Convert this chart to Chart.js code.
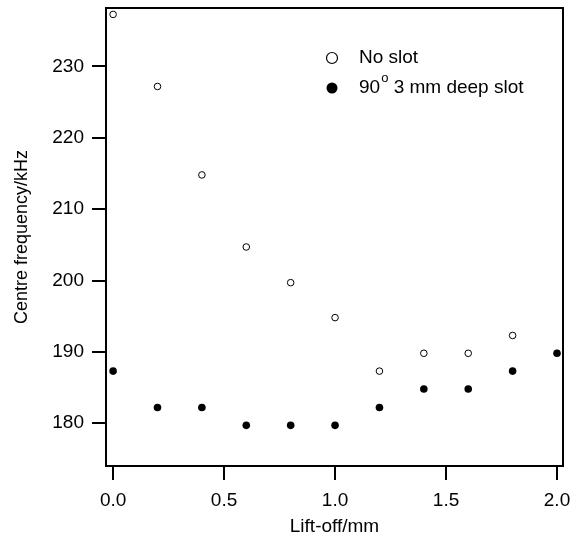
<!DOCTYPE html>
<html>
<head>
<meta charset="utf-8">
<script src="https://cdn.jsdelivr.net/npm/chart.js@4/dist/chart.umd.min.js"></script>
<style>
  html, body { margin: 0; padding: 0; background: #fff; }
  #wrap { width: 571px; height: 536px; }
</style>
</head>
<body>
<div id="wrap"><canvas id="chart" width="571" height="536"></canvas></div>
<script>
"use strict";

// data
const liftOff = [0.0, 0.2, 0.4, 0.6, 0.8, 1.0, 1.2, 1.4, 1.6, 1.8, 2.0];
const noSlot = [237.3, 227.2, 214.8, 204.7, 199.7, 194.8, 187.3, 189.8, 189.8, 192.3];
const deepSlot = [187.3, 182.2, 182.2, 179.7, 179.7, 179.7, 182.2, 184.8, 184.8, 187.3, 189.8];
const xTicks = [0.0, 0.5, 1.0, 1.5, 2.0];
const yTicks = [180, 190, 200, 210, 220, 230];
const seriesNames = ["No slot", "90° 3 mm deep slot"];

const FONT = "'Liberation Sans', Arial, sans-serif";

const toPoints = (ys) => ys.map((y, i) => ({ x: liftOff[i], y: y }));

// draws the frame round the plot and the legend (with superscript degree "o")
const framePlugin = {
  id: "frame",
  afterDraw(chart) {
    const { ctx, chartArea } = chart;
    ctx.save();
    ctx.strokeStyle = "#000";
    ctx.lineWidth = 2;
    ctx.strokeRect(chartArea.left, chartArea.top, chartArea.right - chartArea.left, chartArea.bottom - chartArea.top);

    const mx = 332, tx = 359;
    const rows = [58, 88];
    ctx.font = "19px " + FONT;
    ctx.textBaseline = "middle";
    ctx.fillStyle = "#000";
    rows.forEach((ry, i) => {
      ctx.beginPath();
      ctx.arc(mx, ry, 5.5, 0, Math.PI * 2);
      ctx.lineWidth = 1.2;
      if (i === 0) {
        ctx.fillStyle = "#fff";
        ctx.fill();
        ctx.stroke();
      } else {
        ctx.fillStyle = "#000";
        ctx.fill();
      }
      ctx.fillStyle = "#000";
      const name = seriesNames[i];
      const deg = name.indexOf("°");
      if (deg < 0) {
        ctx.font = "19px " + FONT;
        ctx.fillText(name, tx, ry);
      } else {
        const head = name.slice(0, deg);
        const tail = name.slice(deg + 1);
        ctx.font = "19px " + FONT;
        ctx.fillText(head, tx, ry);
        let x = tx + ctx.measureText(head).width + 1;
        ctx.font = "13px " + FONT;
        ctx.fillText("o", x, ry - 10);
        x += ctx.measureText("o").width;
        ctx.font = "19px " + FONT;
        ctx.fillText(tail, x, ry);
      }
    });
    ctx.restore();
  },
};

new Chart(document.getElementById("chart"), {
  type: "scatter",
  data: {
    datasets: [
      {
        label: seriesNames[0],
        data: toPoints(noSlot),
        pointStyle: "circle",
        pointRadius: 3.3,
        pointBorderWidth: 1,
        borderColor: "#000",
        backgroundColor: "#fff",
      },
      {
        label: seriesNames[1],
        data: toPoints(deepSlot),
        pointStyle: "circle",
        pointRadius: 3.8,
        pointBorderWidth: 0,
        borderColor: "#000",
        backgroundColor: "#000",
      },
    ],
  },
  options: {
    responsive: false,
    animation: false,
    layout: { padding: { left: 0, right: 8, top: 8, bottom: 0 } },
    plugins: {
      legend: { display: false },
      tooltip: { enabled: false },
    },
    scales: {
      x: {
        type: "linear",
        min: -0.032,
        max: 2.027,
        afterBuildTicks: (scale) => {
          scale.ticks = xTicks.map((v) => ({ value: v }));
        },
        afterFit: (scale) => {
          scale.height = 70;
          scale.paddingLeft = 0;
          scale.paddingRight = 0;
        },
        ticks: {
          color: "#000",
          font: { family: FONT, size: 19 },
          padding: 9,
          maxRotation: 0,
          callback: (v) => Number(v).toFixed(1),
        },
        grid: {
          drawOnChartArea: false,
          drawTicks: true,
          tickLength: 14,
          color: "#000",
          lineWidth: 2,
        },
        border: { display: true, color: "#000", width: 2 },
        title: {
          display: true,
          text: "Lift-off/mm",
          color: "#000",
          font: { family: FONT, size: 19, lineHeight: 1 },
          padding: { top: 0, bottom: 0 },
        },
      },
      y: {
        type: "linear",
        min: 174.0,
        max: 238.2,
        afterBuildTicks: (scale) => {
          scale.ticks = yTicks.map((v) => ({ value: v }));
        },
        afterFit: (scale) => {
          scale.width = 106;
          scale.paddingTop = 0;
          scale.paddingBottom = 0;
        },
        ticks: {
          color: "#000",
          font: { family: FONT, size: 19 },
          padding: 8,
        },
        grid: {
          drawOnChartArea: false,
          drawTicks: true,
          tickLength: 14,
          color: "#000",
          lineWidth: 2,
        },
        border: { display: true, color: "#000", width: 2 },
        title: {
          display: true,
          text: "Centre frequency/kHz",
          color: "#000",
          font: { family: FONT, size: 18 },
          padding: { top: 11, bottom: 0 },
        },
      },
    },
  },
  plugins: [framePlugin],
});
</script>
</body>
</html>
